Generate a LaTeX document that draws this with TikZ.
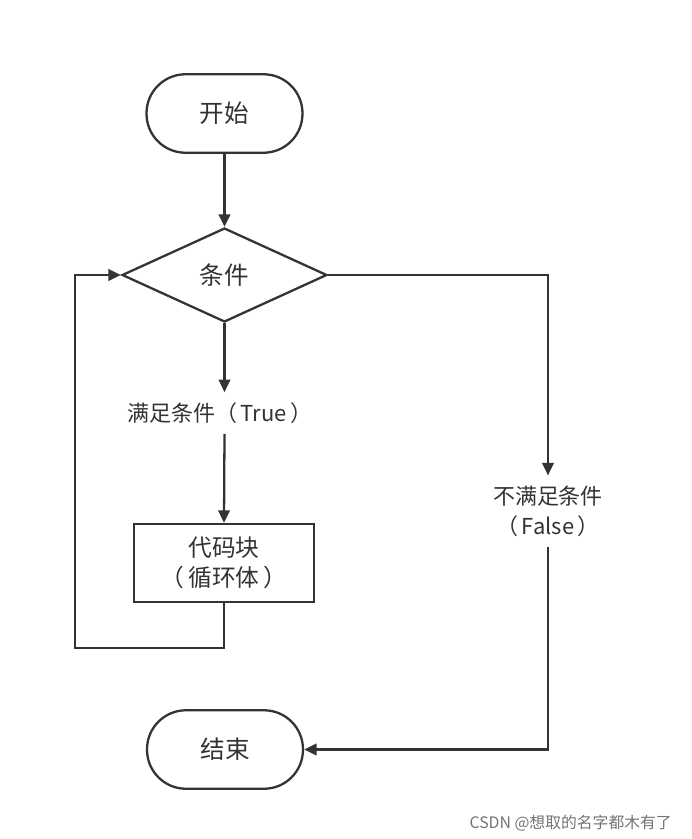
\documentclass[tikz,border=0pt]{standalone}
\usepackage{fontspec}
\setmainfont{Noto Sans CJK SC}
\usetikzlibrary{shapes.geometric,arrows.meta}
\definecolor{ink}{HTML}{333333}
\tikzset{
    terminal/.style={draw=ink,line width=1.3pt,rounded corners=0.78cm,minimum width=3.12cm,minimum height=1.57cm,text=ink,font=\fontsize{14}{17}\selectfont},
    decision/.style={diamond,draw=ink,line width=1.3pt,inner sep=0pt,minimum width=4.1cm,minimum height=1.88cm,text=ink,font=\fontsize{14}{17}\selectfont},
    process/.style={draw=ink,line width=1.3pt,minimum width=3.6cm,minimum height=1.56cm,align=center,text=ink,font=\fontsize{13.5}{17}\selectfont},
    branch/.style={align=center,inner sep=0.2cm,text=ink,font=\fontsize{12.5}{17}\selectfont},
    arr/.style={draw=ink,line width=1.3pt,-{Triangle[length=2.5mm,width=2.3mm]}}
}
\begin{document}
\begin{tikzpicture}[x=0.02cm,y=-0.02cm]
    \useasboundingbox (0,0) rectangle (692,839);
    \node[terminal] (start) at (224.5,113.5) {开始};
    \node[decision] (cond) at (224.5,275) {条件};
    \node[branch] (lblT) at (220,413) {满足条件（\,True\,）};
    \node[process] (body) at (224,563) {代码块\\（\,循环体\,）};
    \node[branch] (lblF) at (548,511) {不满足条件\\（\,False\,）};
    \node[terminal] (stop) at (225,749.5) {结束};
    \coordinate (loopL) at (75,648);
    \draw[arr] (start) -- (cond);
    \draw[arr] (cond.south) -- (cond.south |- lblT.north);
    \draw[arr] (cond.south |- lblT.south) -- (body.north);
    \draw[arr] (body.south) |- (loopL) |- (cond.west);
    \draw[arr] (cond.east) -| (lblF.north);
    \draw[arr] (lblF.south) |- (stop.east);
    \node[anchor=east,text=black!55,font=\fontsize{9}{11}\selectfont] (mark) at (678,823) {CSDN @想取的名字都木有了};
\end{tikzpicture}
\end{document}
